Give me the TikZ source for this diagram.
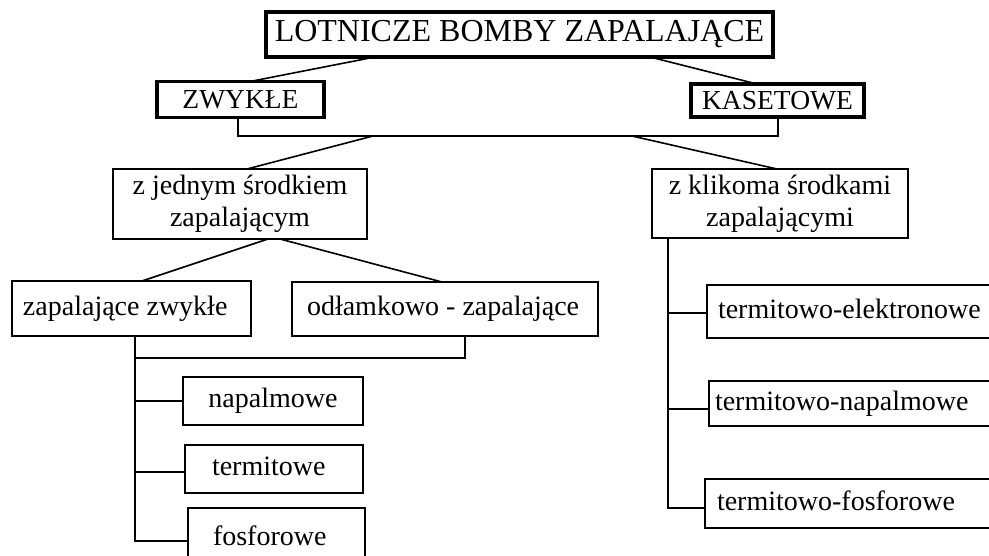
\documentclass[tikz,border=0pt]{standalone}
\usepackage{fontspec}
\setmainfont{Liberation Serif}
\usetikzlibrary{calc}
\newcommand{\leftin}[2]{\makebox[#1][l]{#2}}
\tikzset{
  every node/.style={outer sep=0pt},
  bigbox/.style={draw, line width=4.5pt, inner sep=0pt, font=\fontsize{32}{36}\selectfont},
  headbox/.style={draw, line width=3.8pt, inner sep=0pt, font=\fontsize{27.5}{32}\selectfont},
  box/.style={draw, line width=1.6pt, inner ysep=0pt, font=\fontsize{28}{32}\selectfont},
  onebox/.style={box, text height=19pt, text depth=6pt},
  conn/.style={line width=1.6pt},
}
\begin{document}
\begin{tikzpicture}[x=1pt, y=-1pt]
\clip (0,0) rectangle (989,555);
\fill[white] (0,0) rectangle (989,555);

% top level
\node[bigbox, minimum width=507pt, minimum height=45pt] (title) at (519.5,34.5) {LOTNICZE BOMBY ZAPALAJĄCE};
\node[headbox, minimum width=167pt, minimum height=36pt] (zw) at (240.5,99.5) {ZWYKŁE};
\node[headbox, minimum width=173pt, minimum height=33pt] (kas) at (777.5,100.5) {KASETOWE};

% second level
\node[box, minimum width=254pt, minimum height=70pt, align=center] (zj) at (240,204) {z jednym środkiem\\zapalającym};
\node[box, minimum width=256pt, minimum height=69pt, align=center] (zk) at (780,203.5) {z klikoma środkami\\zapalającymi};

% third level, left
\node[onebox, minimum height=55pt, inner xsep=11pt] (zz) at (131.5,308.5) {\leftin{217pt}{zapalające zwykłe}};
\node[onebox, minimum height=54pt, inner xsep=15pt] (od) at (445,309) {\leftin{276pt}{odłamkowo - zapalające}};

% leaves, left
\node[onebox, minimum width=180pt, minimum height=48pt, inner xsep=0pt] (na) at (273,401) {napalmowe};
\node[onebox, minimum height=48pt, inner xsep=27pt] (te) at (274,469) {\leftin{124pt}{termitowe}};
\node[onebox, minimum height=62pt, inner xsep=25pt] (fo) at (276.5,539) {\leftin{127pt}{fosforowe}};

% leaves, right
\node[onebox, minimum height=53pt, inner xsep=11pt] (tel) at (853.5,311.5) {\leftin{271pt}{termitowo-elektronowe}};
\node[onebox, minimum height=45pt, inner xsep=6pt] (tna) at (854.5,403.5) {\leftin{279pt}{termitowo-napalmowe}};
\node[onebox, minimum height=49pt, inner xsep=12pt] (tfo) at (852.5,503.5) {\leftin{271pt}{termitowo-fosforowe}};

% connectors, top
\draw[conn] ($(title.south west)+(109,0)$) -- ($(zw.north west)+(93,0)$);
\draw[conn] ($(title.south west)+(384,0)$) -- ($(kas.north west)+(66,0)$);
\draw[conn] ($(zw.south west)+(81,0)$) -- ++(0,18.5) -| ($(kas.south west)+(87,0)$);
\coordinate (bjl) at (373,136);
\coordinate (bjr) at (632,136);
\draw[conn] (bjl) -- ($(zj.north west)+(134,0)$);
\draw[conn] (bjr) -- ($(zk.north west)+(125,0)$);

% connectors, left subtree
\draw[conn] ($(zj.south west)+(155,0)$) -- ($(zz.north west)+(130,0)$);
\draw[conn] ($(zj.south west)+(167,0)$) -- ($(od.north west)+(150,0)$);
\coordinate (lsp) at (135,358);
\draw[conn] ($(zz.south west)+(123,0)$) |- ($(fo.west)+(0,2)$);
\draw[conn] (lsp) -| ($(od.south west)+(173,0)$);
\draw[conn] (na.west -| lsp) -- (na.west);
\draw[conn] ($(te.west -| lsp)+(0,3)$) -- ($(te.west)+(0,3)$);

% connectors, right subtree
\coordinate (rsp) at (668,300);
\draw[conn] ($(zk.south west)+(16,0)$) |- ($(tfo.west)+(0,4.5)$);
\draw[conn] ($(tel.west -| rsp)+(0,1.5)$) -- ($(tel.west)+(0,1.5)$);
\draw[conn] ($(tna.west -| rsp)+(0,5.5)$) -- ($(tna.west)+(0,5.5)$);
\end{tikzpicture}
\end{document}
